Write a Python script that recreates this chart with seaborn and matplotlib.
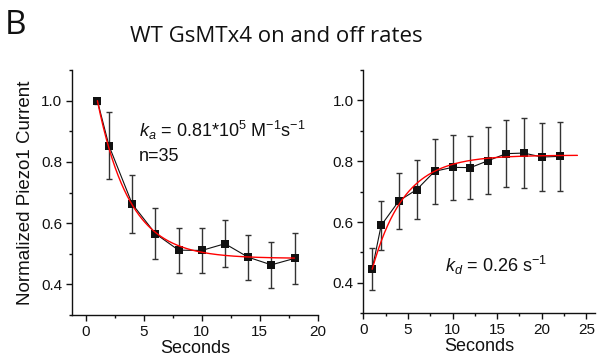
import numpy as np
import pandas as pd
import matplotlib
matplotlib.use('Agg')
import matplotlib.pyplot as plt
from matplotlib.ticker import MultipleLocator
import seaborn as sns

# on-rate (wash-in) data
on_time = [1, 2, 4, 6, 8, 10, 12, 14, 16, 18]
on_current = [1.0, 0.853, 0.663, 0.566, 0.512, 0.511, 0.533, 0.489, 0.464, 0.485]
on_err = [0.01, 0.11, 0.094, 0.083, 0.073, 0.073, 0.076, 0.074, 0.074, 0.084]

# off-rate (wash-out) data
off_time = [1, 2, 4, 6, 8, 10, 12, 14, 16, 18, 20, 22]
off_current = [0.446, 0.589, 0.670, 0.707, 0.767, 0.780, 0.779, 0.802, 0.825, 0.827, 0.814, 0.816]
off_err = [0.068, 0.08, 0.092, 0.096, 0.107, 0.107, 0.104, 0.111, 0.11, 0.115, 0.113, 0.113]

# single exponential fits: plateau, amplitude, rate, start, end
on_fit = (0.485, 0.515, 0.36, 1, 18)
off_fit = (0.82, -0.375, 0.28, 1, 24)

INK = '#111111'


def fit_curve(params):
    plateau, amp, k, t0, t1 = params
    t = np.linspace(t0, t1, 200)
    return pd.DataFrame({'t': t, 'y': plateau + amp * np.exp(-k * (t - t0))})


def draw_panel(ax, t, y, err, fit, xlim, xstep):
    df = pd.DataFrame({'t': t, 'y': y})
    ax.errorbar(df['t'], df['y'], yerr=err, fmt='none', ecolor='#333333',
                elinewidth=1.0, capsize=2.5, capthick=1.0, zorder=2)
    sns.lineplot(data=df, x='t', y='y', ax=ax, color=INK, linewidth=0.8,
                 marker='s', markersize=5.5, markeredgewidth=0, zorder=3)
    sns.lineplot(data=fit_curve(fit), x='t', y='y', ax=ax, color='red',
                 linewidth=1.0, zorder=4)
    ax.set_ylim(0.3, 1.1)
    ax.set_xlim(*xlim)
    ax.xaxis.set_major_locator(MultipleLocator(xstep))
    ax.xaxis.set_minor_locator(MultipleLocator(xstep / 2))
    ax.yaxis.set_minor_locator(MultipleLocator(0.1))
    ax.set_yticks([0.4, 0.6, 0.8, 1.0])
    ax.tick_params(which='major', direction='out', length=4, width=1, labelsize=11,
                   colors=INK, pad=3)
    ax.tick_params(which='minor', direction='out', length=2.5, width=1, colors=INK)
    for side in ['top', 'right']:
        ax.spines[side].set_visible(False)
    for side in ['left', 'bottom']:
        ax.spines[side].set_color(INK)
        ax.spines[side].set_linewidth(1.0)
    ax.set_xlabel('Seconds', fontsize=13, color=INK, labelpad=1)
    ax.set_ylabel('')


sns.set_style('ticks')
plt.rcParams['font.family'] = ['Liberation Sans', 'DejaVu Sans']
plt.rcParams['mathtext.fontset'] = 'custom'
plt.rcParams['mathtext.rm'] = 'Liberation Sans'
plt.rcParams['mathtext.it'] = 'Liberation Sans:italic'

fig = plt.figure(figsize=(6.04, 3.63), dpi=100)
ax1 = fig.add_axes([0.119, 0.132, 0.407, 0.675])
ax2 = fig.add_axes([0.6015, 0.137, 0.384, 0.67])

draw_panel(ax1, on_time, on_current, on_err, on_fit, (-1.2, 20), 5)
draw_panel(ax2, off_time, off_current, off_err, off_fit, (0, 26), 5)

ax1.set_ylabel('Normalized Piezo1 Current', fontsize=13.5, color=INK, labelpad=5)

ax1.text(4.6, 0.902, r'$k_a$ = 0.81*10$^5$ M$^{-1}$s$^{-1}$', fontsize=13,
         color=INK, va='center', ha='left')
ax1.text(4.6, 0.817, 'n=35', fontsize=13, color=INK, va='center', ha='left')
ax2.text(9.2, 0.456, r'$k_d$ = 0.26 s$^{-1}$', fontsize=13, color=INK,
         va='center', ha='left')

fig.text(0.008, 0.93, 'B', fontsize=24, family='Open Sans', color=INK,
         va='center', ha='left')
fig.text(0.457, 0.9, 'WT GsMTx4 on and off rates', fontsize=16, family='Open Sans',
         color=INK, va='center', ha='center')

fig.savefig('out.png', dpi=100)
